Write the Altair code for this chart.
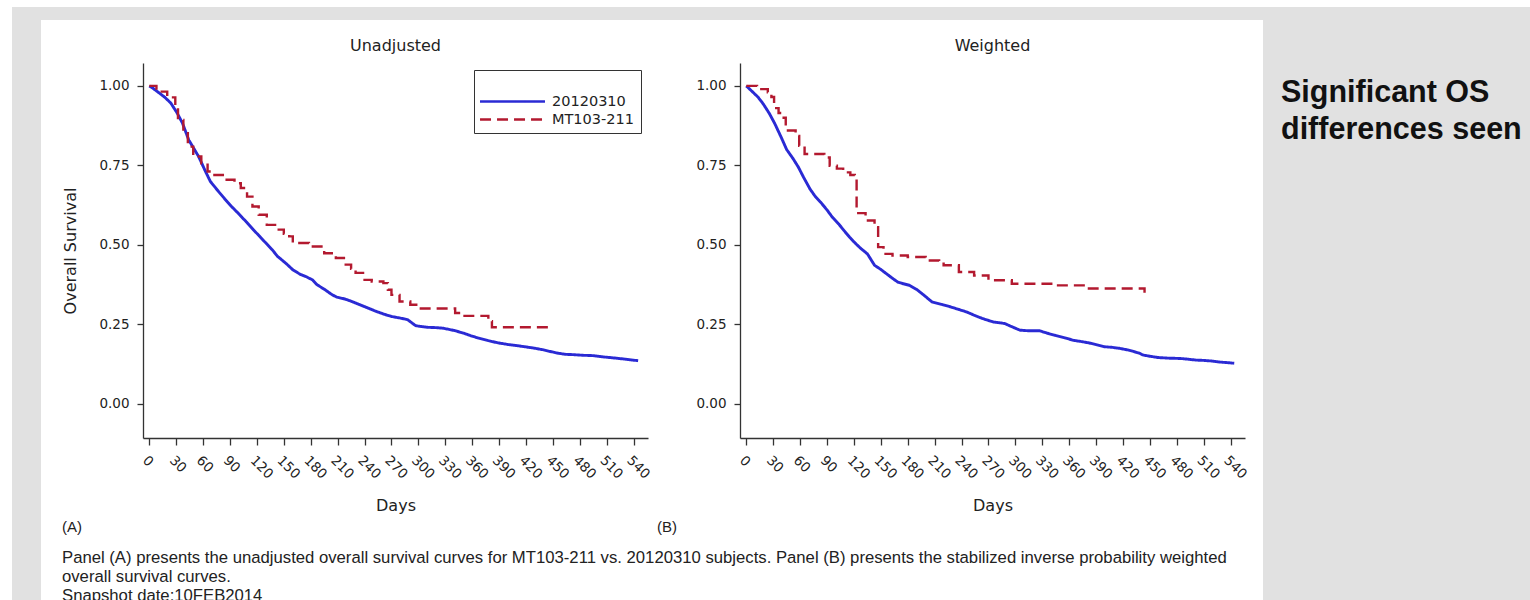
import altair as alt
import pandas as pd

# ---------------- data ----------------
SERIES = ["20120310", "MT103-211"]
COLORS = ["#2a2ad4", "#b3192f"]
DASHES = [[1, 0], [11, 6]]

# Panel A (Unadjusted)
a_blue_day = [0, 3, 10, 17, 24, 31, 37, 44, 55, 62, 68, 76, 85, 92, 99, 108, 116, 123, 130, 137,
              143, 152, 160, 168, 175, 182, 187, 196, 204, 209, 218, 226, 240, 253, 262, 270, 280, 288, 297, 310,
              320, 328, 340, 350, 358, 367, 378, 389, 400, 416, 428, 438, 447, 455, 464, 473, 484, 495, 506, 517,
              530, 545]
a_blue_surv = [1.00, 0.995, 0.98, 0.965, 0.946, 0.915, 0.883, 0.83, 0.778, 0.735, 0.70, 0.672, 0.642, 0.62, 0.60, 0.573, 0.548, 0.527, 0.506, 0.485,
               0.464, 0.443, 0.422, 0.408, 0.40, 0.39, 0.375, 0.359, 0.343, 0.336, 0.33, 0.322, 0.306, 0.291, 0.282, 0.275, 0.27, 0.265, 0.246, 0.241,
               0.240, 0.238, 0.231, 0.223, 0.215, 0.207, 0.199, 0.192, 0.187, 0.181, 0.176, 0.171, 0.165, 0.16, 0.156, 0.155, 0.153, 0.152, 0.148, 0.145,
               0.141, 0.136]
a_red_day = [0, 8, 20, 29, 32, 38, 43, 49, 58, 65, 71, 82, 95, 102, 109, 115, 122, 131, 142, 150,
             156, 160, 178, 195, 208, 217, 225, 230, 240, 248, 261, 266, 270, 279, 291, 301, 341, 349, 378, 382,
             445]
a_red_surv = [1.0, 0.982, 0.964, 0.93, 0.893, 0.851, 0.809, 0.778, 0.757, 0.731, 0.72, 0.705, 0.694, 0.679, 0.652, 0.621, 0.595, 0.563, 0.548, 0.535,
              0.527, 0.506, 0.495, 0.474, 0.459, 0.438, 0.425, 0.412, 0.39, 0.385, 0.38, 0.359, 0.343, 0.322, 0.312, 0.30, 0.286, 0.277, 0.26, 0.241,
              0.232]

# Panel B (Weighted)
b_blue_day = [0, 6, 13, 19, 26, 32, 39, 45, 52, 58, 64, 71, 77, 83, 90, 96, 103, 109, 115, 122,
              128, 135, 143, 150, 156, 163, 169, 175, 182, 190, 198, 207, 218, 228, 237, 246, 254, 263, 275, 288,
              296, 305, 315, 327, 335, 344, 355, 365, 374, 382, 391, 399, 408, 416, 425, 433, 438, 442, 450, 459,
              471, 484, 492, 501, 510, 519, 527, 536, 544]
b_blue_surv = [1.0, 0.984, 0.965, 0.943, 0.912, 0.88, 0.838, 0.80, 0.772, 0.745, 0.712, 0.676, 0.652, 0.634, 0.61, 0.587, 0.566, 0.545, 0.525, 0.504,
               0.488, 0.472, 0.436, 0.423, 0.41, 0.395, 0.383, 0.378, 0.373, 0.36, 0.342, 0.321, 0.313, 0.305, 0.297, 0.289, 0.279, 0.269, 0.258, 0.253,
               0.243, 0.232, 0.23, 0.23, 0.223, 0.216, 0.208, 0.20, 0.196, 0.192, 0.186, 0.18, 0.178, 0.175, 0.17, 0.164, 0.16, 0.154, 0.15, 0.146,
               0.144, 0.143, 0.141, 0.138, 0.137, 0.135, 0.132, 0.13, 0.128]
b_red_day = [0, 12, 24, 28, 31, 36, 40, 44, 55, 59, 65, 87, 93, 101, 108, 116, 121, 123, 133, 143,
             147, 153, 163, 180, 200, 215, 220, 237, 254, 270, 296, 343, 382, 444]
b_red_surv = [1.0, 0.99, 0.98, 0.965, 0.93, 0.915, 0.90, 0.86, 0.843, 0.812, 0.786, 0.775, 0.749, 0.74, 0.728, 0.72, 0.713, 0.60, 0.577, 0.556,
              0.493, 0.472, 0.467, 0.462, 0.451, 0.445, 0.436, 0.415, 0.404, 0.389, 0.378, 0.373, 0.363, 0.35]

X_TICKS = list(range(0, 541, 30))
Y_TICKS = [0.0, 0.25, 0.5, 0.75, 1.0]

PANEL_TITLES = ["Unadjusted", "Weighted"]
PANEL_TAGS = ["(A)", "(B)"]
CAPTION = [
    "Panel (A) presents the unadjusted overall survival curves for MT103-211 vs. 20120310 subjects. Panel (B) presents the stabilized inverse probability weighted",
    "overall survival curves.",
    "Snapshot date:10FEB2014",
]
SIDE_NOTE = ["Significant OS", "differences seen"]

# ---------------- layout / style ----------------
FONT = "DejaVu Sans"
CAP_FONT = "Liberation Sans"
W, H = 505, 375          # each plot area
OX, OY = 143, 63         # panel A plot origin on the page
SPACING = 92             # panel B plot origin = OX + W + SPACING
PAGE_W, PAGE_H = 1530, 600
GRAY = "#e1e1e1"

one = pd.DataFrame({"k": [0]})


def frame(day, surv, name):
    return pd.DataFrame({"Days": day, "Survival": surv, "group": name})


def rect(x1, x2, y1, y2, fill):
    return alt.Chart(one).mark_rect(fill=fill, strokeWidth=0).encode(
        x=alt.value(x1 - OX), x2=alt.value(x2 - OX), y=alt.value(y1 - OY), y2=alt.value(y2 - OY)
    )


def text(txt, x, y, size, font, weight="normal", align="left", baseline="middle", color="#222", line_height=None):
    kw = dict(text=txt, font=font, fontSize=size, fontWeight=weight, align=align, baseline=baseline, color=color)
    if line_height is not None:
        kw["lineHeight"] = line_height
    return alt.Chart(one).mark_text(**kw).encode(x=alt.value(x), y=alt.value(y))


AX = dict(
    domainColor="#333", domainWidth=1.3, tickColor="#333", tickWidth=1.3, grid=False,
    labelFont=FONT, labelFontSize=13.5, labelColor="#222", labelOverlap=False,
    titleFont=FONT, titleFontSize=16, titleFontWeight="normal", titleColor="#222", zindex=1,
)


def lines(blue_df, red_df, show_legend, y_title):
    if show_legend:
        leg = alt.Legend(
            orient="top-right", offset=7, padding=7, strokeColor="#333", fillColor="white",
            symbolType="M-4.64,0H4.64", symbolSize=196, symbolStrokeWidth=2.5,
            symbolOffset=23, labelOffset=31, labelFont=FONT, labelFontSize=14.5, labelColor="#222",
            titleFontSize=14, titlePadding=2, rowPadding=3, zindex=1, cornerRadius=0,
        )
        ttl = " "
    else:
        leg = None
        ttl = None
    x = alt.X("Days:Q", scale=alt.Scale(domain=[-7, 556], nice=False, zero=False),
              axis=alt.Axis(values=X_TICKS, labelAngle=45, title="Days", tickSize=7,
                            labelPadding=8, titlePadding=17, **AX))
    y_kw = dict(values=Y_TICKS, format=".2f", tickSize=6, labelPadding=8, titlePadding=20, **AX)
    yax = alt.Axis(title=y_title, **y_kw) if y_title else alt.Axis(title=None, **y_kw)
    y = alt.Y("Survival:Q", scale=alt.Scale(domain=[-0.107, 1.072], nice=False, zero=False), axis=yax)
    color = alt.Color("group:N", scale=alt.Scale(domain=SERIES, range=COLORS), legend=leg, title=ttl)
    dash = alt.StrokeDash("group:N", scale=alt.Scale(domain=SERIES, range=DASHES), legend=leg, title=ttl)
    blue = alt.Chart(blue_df).mark_line(strokeWidth=2.9, interpolate="linear").encode(
        x=x, y=y, color=color, strokeDash=dash)
    red = alt.Chart(red_df).mark_line(strokeWidth=2.4, interpolate="step-after").encode(
        x=x, y=y, color=color, strokeDash=dash)
    return [blue, red]


# decorations drawn inside panel A (coordinates relative to its plot origin)
decor = [
    rect(0, PAGE_W, 0, PAGE_H, "white"),
    rect(12, PAGE_W, 7, PAGE_H, GRAY),
    rect(41, 1263, 20, PAGE_H, "white"),
    text(PANEL_TITLES[0], W / 2, 46 - OY, 16, FONT, align="center"),
    text(PANEL_TAGS[0], 62 - OX, 527 - OY, 15, CAP_FONT),
    text(PANEL_TAGS[1], 657 - OX, 527 - OY, 15, CAP_FONT),
    text(CAPTION[0], 62 - OX, 558 - OY, 16.7, CAP_FONT),
    text(CAPTION[1], 62 - OX, 577 - OY, 16.7, CAP_FONT),
    text(CAPTION[2], 62 - OX, 596 - OY, 16.7, CAP_FONT),
    text(SIDE_NOTE, 1281 - OX, 102 - OY, 30.5, CAP_FONT, weight="bold", baseline="alphabetic",
         color="#111", line_height=37),
]

panel_a = alt.layer(
    *decor,
    *lines(frame(a_blue_day, a_blue_surv, SERIES[0]), frame(a_red_day, a_red_surv, SERIES[1]), True, "Overall Survival"),
).properties(width=W, height=H)

panel_b = alt.layer(
    text(PANEL_TITLES[1], W / 2, 46 - OY, 16, FONT, align="center"),
    *lines(frame(b_blue_day, b_blue_surv, SERIES[0]), frame(b_red_day, b_red_surv, SERIES[1]), False, None),
).properties(width=W, height=H)

chart = (
    alt.hconcat(panel_a, panel_b, spacing=SPACING, bounds="flush")
    .resolve_scale(color="independent", strokeDash="independent")
    .resolve_legend(color="independent", strokeDash="independent")
    .properties(padding=0, background="white")
    .configure_view(stroke=None)
)

chart.save("out.html", embed_options={"renderer": "svg", "actions": False})
